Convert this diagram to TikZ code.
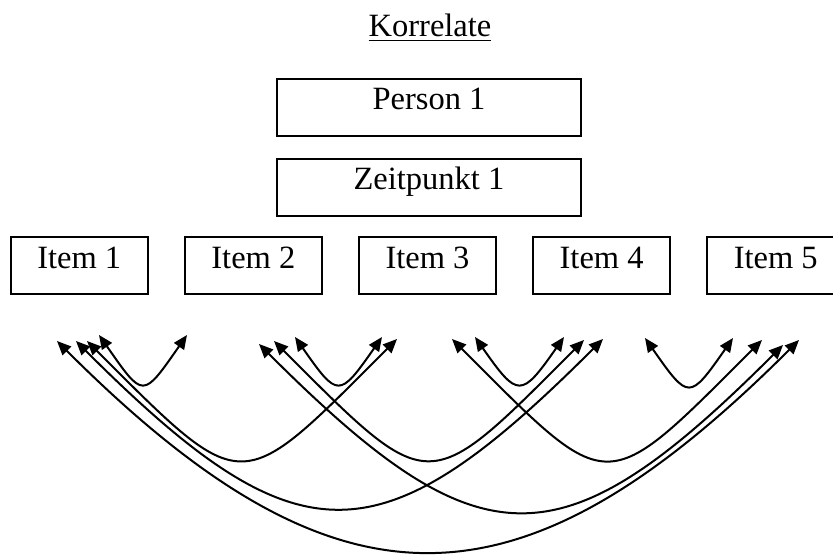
\documentclass[tikz,border=0pt]{standalone}
\usepackage{fontspec}
\setmainfont{Liberation Serif}
\usepackage{tikz}
\usetikzlibrary{positioning,arrows.meta}
\tikzset{
  kasten/.style={rectangle, draw, line width=0.75pt, inner xsep=0pt, inner ysep=0pt,
    minimum width=54.8pt, text height=12.4pt, text depth=10.4pt,
    font=\fontsize{13}{15}\selectfont},
  kastenb/.style={kasten, minimum width=121.6pt},
  titel/.style={font=\fontsize{13}{15}\selectfont, anchor=base},
  pfeil/.style={{Triangle[length=5.6pt,width=4.8pt]}-{Triangle[length=5.6pt,width=4.8pt]},
    line width=0.8pt},
  kurz/.style={pfeil, out=-55, in=-125},
  lang/.style={pfeil, out=-45, in=-135},
}

\begin{document}
\begin{tikzpicture}[x=0.4pt, y=0.4pt, node distance=8.3pt and 14.1pt]
  \useasboundingbox (0,0) rectangle (833,554);
  \clip (0,0) rectangle (833,554);

  \node[titel] (korr) at (430,517) {\underline{Korrelate}};
  \node[kastenb, anchor=base] (person) at (429,444) {Person 1};
  \node[kastenb, below=of person] (zeit) {Zeitpunkt 1};

  \node[kasten, below=7.9pt of zeit, xshift=-0.6pt] (item3) {Item 3};
  \node[kasten, left=of item3] (item2) {Item 2};
  \node[kasten, left=of item2] (item1) {Item 1};
  \node[kasten, right=of item3] (item4) {Item 4};
  \node[kasten, right=of item4] (item5) {Item 5};

  % Enden der Korrelationspfeile
  \coordinate (a12) at (99,219);  \coordinate (b12) at (187,219);
  \coordinate (a13) at (87,213);  \coordinate (b13) at (397,215);
  \coordinate (a14) at (76,213);  \coordinate (b14) at (603,215);
  \coordinate (a15) at (57,213);  \coordinate (b15) at (799,214);
  \coordinate (a23) at (295,217); \coordinate (b23) at (382,217);
  \coordinate (a24) at (274,213); \coordinate (b24) at (584,214);
  \coordinate (a25) at (259,210); \coordinate (b25) at (783,209);
  \coordinate (a34) at (475,217); \coordinate (b34) at (564,217);
  \coordinate (a35) at (452,215); \coordinate (b35) at (762,214);
  \coordinate (a45) at (645,216); \coordinate (b45) at (733,216);

  \draw[kurz, looseness=2.27] (a12) to (b12);
  \draw[kurz, looseness=2.2] (a23) to (b23);
  \draw[kurz, looseness=2.15] (a34) to (b34);
  \draw[kurz, looseness=2.22] (a45) to (b45);
  \draw[lang, looseness=1.85] (a13) to (b13);
  \draw[lang, looseness=1.84] (a24) to (b24);
  \draw[lang, looseness=1.86] (a35) to (b35);
  \draw[lang, looseness=1.53] (a14) to (b14);
  \draw[lang, looseness=1.53] (a25) to (b25);
  \draw[lang, looseness=1.37] (a15) to (b15);
\end{tikzpicture}
\end{document}
